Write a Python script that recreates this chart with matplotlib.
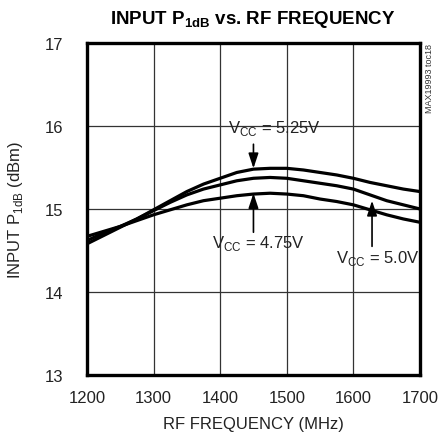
import matplotlib
matplotlib.use("Agg")
import matplotlib.pyplot as plt
from matplotlib import font_manager

freq = [1200, 1225, 1250, 1275, 1300, 1325, 1350, 1375, 1400, 1425, 1450,
        1475, 1500, 1525, 1550, 1575, 1600, 1625, 1650, 1675, 1700]
p1db_525 = [14.58, 14.68, 14.78, 14.88, 14.99, 15.10, 15.21, 15.30, 15.37, 15.44, 15.48,
            15.49, 15.49, 15.47, 15.44, 15.41, 15.37, 15.32, 15.28, 15.24, 15.21]
p1db_500 = [14.62, 14.71, 14.79, 14.88, 14.98, 15.08, 15.17, 15.24, 15.29, 15.34, 15.37,
            15.38, 15.37, 15.34, 15.31, 15.28, 15.24, 15.17, 15.10, 15.05, 15.00]
p1db_475 = [14.67, 14.73, 14.79, 14.86, 14.93, 14.99, 15.05, 15.10, 15.13, 15.16, 15.18,
            15.19, 15.18, 15.16, 15.12, 15.09, 15.05, 14.99, 14.93, 14.88, 14.84]

x_ticks = [1200, 1300, 1400, 1500, 1600, 1700]
y_ticks = [13, 14, 15, 16, 17]

# narrow sans if there is one, else Liberation Sans
names = {f.name for f in font_manager.fontManager.ttflist}
base = "Liberation Sans Narrow" if "Liberation Sans Narrow" in names else "Liberation Sans"
plt.rcParams["font.family"] = [base, "DejaVu Sans"]
plt.rcParams["mathtext.fontset"] = "custom"
plt.rcParams["mathtext.rm"] = base
plt.rcParams["mathtext.bf"] = base + ":bold"

fig = plt.figure(figsize=(4.48, 4.39), dpi=100)
ax = fig.add_axes([0.194, 0.1435, 0.7435, 0.7563])

for y in (p1db_525, p1db_500, p1db_475):
    ax.plot(freq, y, color="black", lw=2.3, solid_joinstyle="round")

ax.set_xlim(1200, 1700)
ax.set_ylim(13, 17)
ax.set_xticks(x_ticks)
ax.set_yticks(y_ticks)
ax.tick_params(length=0, labelsize=12, colors="#222222")
ax.tick_params(axis="x", pad=11)
ax.tick_params(axis="y", pad=17)
ax.grid(True, color="#333333", lw=0.9)
for s in ax.spines.values():
    s.set_linewidth(2.4)

arrow = dict(arrowstyle="-|>,head_length=0.9,head_width=0.3", color="black", lw=1.2,
             shrinkA=0, shrinkB=0)
lbl = dict(ha="center", va="center", fontsize=12, color="#222222")
ax.annotate("", xy=(1450, 15.49), xytext=(1450, 15.78), arrowprops=arrow)
ax.text(1482, 15.98, r"V$_{\rm CC}$ = 5.25V", **lbl)
ax.annotate("", xy=(1450, 15.19), xytext=(1450, 14.72), arrowprops=arrow)
ax.text(1458, 14.6, r"V$_{\rm CC}$ = 4.75V", **lbl)
ax.annotate("", xy=(1628, 15.1), xytext=(1628, 14.55), arrowprops=arrow)
ax.text(1637, 14.42, r"V$_{\rm CC}$ = 5.0V", **lbl)

ax.set_xlabel("RF FREQUENCY (MHz)", fontsize=12, color="#222222", labelpad=8)
ax.set_ylabel(r"INPUT P$_{\rm 1dB}$ (dBm)", fontsize=12, color="#222222", labelpad=14)
fig.text(0.565, 0.955, r"INPUT P$_{\mathbf{1dB}}$ vs. RF FREQUENCY", ha="center",
         va="center", fontsize=13.5, fontweight="bold")
fig.text(0.958, 0.9, "MAX19993 toc18", rotation=90, ha="center", va="top", fontsize=6.5,
         color="#333333")

fig.savefig("out.png", dpi=100)
